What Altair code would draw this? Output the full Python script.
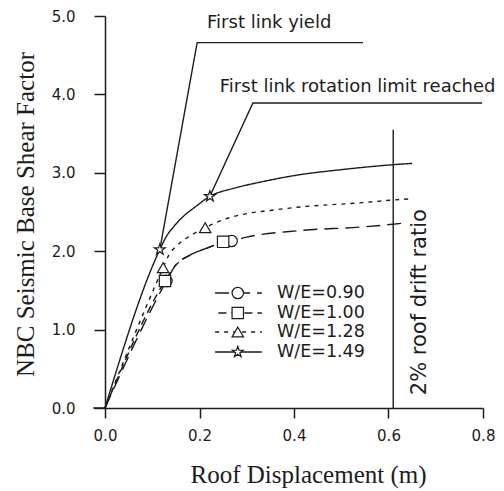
import altair as alt
import pandas as pd

# Pushover curves: roof displacement (m) vs NBC seismic base shear factor
series_names = ["W/E=0.90", "W/E=1.00", "W/E=1.28", "W/E=1.49"]

x_090 = [0.0, 0.130, 0.148, 0.180, 0.216, 0.250, 0.268, 0.300, 0.406, 0.546, 0.603, 0.635]
y_090 = [0.0, 1.62, 1.81, 1.95, 2.04, 2.11, 2.13, 2.18, 2.26, 2.31, 2.34, 2.36]

x_100 = [0.0, 0.127, 0.148, 0.180, 0.216, 0.250]
y_100 = [0.0, 1.62, 1.81, 1.95, 2.04, 2.12]

x_128 = [0.0, 0.123, 0.135, 0.152, 0.176, 0.212, 0.237, 0.265, 0.300, 0.350, 0.406, 0.546, 0.603, 0.650]
y_128 = [0.0, 1.79, 1.95, 2.07, 2.18, 2.30, 2.37, 2.43, 2.48, 2.52, 2.56, 2.62, 2.65, 2.67]

x_149 = [0.0, 0.116, 0.130, 0.145, 0.165, 0.190, 0.222, 0.271, 0.328, 0.406, 0.500, 0.603, 0.650]
y_149 = [0.0, 2.02, 2.19, 2.31, 2.44, 2.56, 2.70, 2.80, 2.88, 2.97, 3.04, 3.10, 3.12]

# Marked points on each curve
mark_series = ["W/E=0.90", "W/E=0.90", "W/E=1.00", "W/E=1.00",
               "W/E=1.28", "W/E=1.28", "W/E=1.49", "W/E=1.49"]
mark_x = [0.130, 0.268, 0.127, 0.250, 0.123, 0.212, 0.116, 0.222]
mark_y = [1.62, 2.13, 1.62, 2.12, 1.79, 2.30, 2.02, 2.70]

# Event leader lines
yield_x = [0.116, 0.195, 0.546]
yield_y = [2.02, 4.66, 4.66]
rot_x = [0.222, 0.313, 0.798]
rot_y = [2.70, 3.89, 3.89]
drift_x = 0.61
drift_top = 3.55

# Legend rows (in data units)
legend_y = [1.467, 1.212, 0.969, 0.714]

STAR = ("M0,-1L0.2245,-0.309L0.951,-0.309L0.363,0.118L0.588,0.809L0,0.382"
        "L-0.588,0.809L-0.363,0.118L-0.951,-0.309L-0.2245,-0.309Z")
shapes = ["circle", "square", "triangle-up", STAR]
dashes = [[14, 7], [8, 5], [4, 5], [1, 0]]
INK = "#1c1c1c"

rows = []
for name, xs, ys in [("W/E=0.90", x_090, y_090), ("W/E=1.00", x_100, y_100),
                     ("W/E=1.28", x_128, y_128), ("W/E=1.49", x_149, y_149)]:
    for i, (a, b) in enumerate(zip(xs, ys)):
        rows.append({"series": name, "x": a, "y": b, "ord": i})
curves = pd.DataFrame(rows)
marks = pd.DataFrame({"series": mark_series, "x": mark_x, "y": mark_y})
leaders = pd.DataFrame(
    [{"grp": "yield", "x": a, "y": b, "ord": i} for i, (a, b) in enumerate(zip(yield_x, yield_y))]
    + [{"grp": "rot", "x": a, "y": b, "ord": i} for i, (a, b) in enumerate(zip(rot_x, rot_y))]
)
drift = pd.DataFrame({"x": [drift_x], "y": [0.0], "y2": [drift_top]})
legend = pd.DataFrame({
    "series": series_names,
    "y": legend_y,
    "x1": [0.233, 0.24, 0.233, 0.233],
    "x2": [0.332, 0.332, 0.332, 0.332],
    "xs": [0.281, 0.281, 0.281, 0.281],
    "xt": [0.364] * 4,
})
notes = pd.DataFrame({
    "x": [0.216, 0.243],
    "y": [4.85, 4.03],
    "label": ["First link yield", "First link rotation limit reached"],
})
drift_note = pd.DataFrame({"x": [0.679], "y": [1.35], "label": ["2% roof drift ratio"]})
# short stub of the x axis line to the left of the origin
stub = pd.DataFrame({"x": [-0.025], "x2": [0.0], "y": [0.0]})

xs = alt.Scale(domain=[0, 0.8], nice=False, zero=False)
ys = alt.Scale(domain=[0, 5], nice=False)
dash_scale = alt.Scale(domain=series_names, range=dashes)
shape_scale = alt.Scale(domain=series_names, range=shapes)

X = alt.X("x:Q", scale=xs, axis=alt.Axis(
    title="Roof Displacement (m)", values=[0, 0.2, 0.4, 0.6, 0.8], format=".1f",
    tickSize=10, labelPadding=10, labelFlush=False, titleX=203, titleY=74,
    titleBaseline="alphabetic", titleAlign="center"))
Y = alt.Y("y:Q", scale=ys, axis=alt.Axis(
    title="NBC Seismic Base Shear Factor", values=[0, 1, 2, 3, 4, 5], format=".1f",
    tickSize=11, labelPadding=19, labelFlush=False, titleX=-72, titleY=198,
    titleBaseline="alphabetic", titleAlign="center"))

lines = alt.Chart(curves).mark_line(
    interpolate="monotone", color=INK, strokeWidth=1.4
).encode(
    x=X, y=Y,
    strokeDash=alt.StrokeDash("series:N", scale=dash_scale, legend=None),
    detail="series:N", order="ord:Q",
)

points = alt.Chart(marks).mark_point(
    fill="white", fillOpacity=1, stroke=INK, strokeWidth=1.2, opacity=1, size=130
).encode(
    x="x:Q", y="y:Q",
    shape=alt.Shape("series:N", scale=shape_scale, legend=None),
)

lead = alt.Chart(leaders).mark_line(color=INK, strokeWidth=1.4).encode(
    x="x:Q", y="y:Q", detail="grp:N", order="ord:Q"
)

drift_rule = alt.Chart(drift).mark_rule(color=INK, strokeWidth=1.4).encode(
    x="x:Q", y="y:Q", y2="y2:Q"
)

axis_stub = alt.Chart(stub).mark_rule(color=INK, strokeWidth=1.5).encode(
    x="x:Q", x2="x2:Q", y="y:Q"
)

note_text = alt.Chart(notes).mark_text(
    align="left", baseline="alphabetic", font="DejaVu Sans", fontSize=18, color=INK
).encode(x="x:Q", y="y:Q", text="label:N")

drift_text = alt.Chart(drift_note).mark_text(
    align="center", baseline="alphabetic", angle=270, font="DejaVu Sans",
    fontSize=21, color=INK
).encode(x="x:Q", y="y:Q", text="label:N")

leg_lines = alt.Chart(legend).mark_rule(color=INK, strokeWidth=1.4).encode(
    x="x1:Q", x2="x2:Q", y="y:Q",
    strokeDash=alt.StrokeDash("series:N", scale=dash_scale, legend=None),
)
leg_points = alt.Chart(legend).mark_point(
    fill="white", fillOpacity=1, stroke=INK, strokeWidth=1.2, opacity=1, size=130
).encode(
    x="xs:Q", y="y:Q",
    shape=alt.Shape("series:N", scale=shape_scale, legend=None),
)
leg_text = alt.Chart(legend).mark_text(
    align="left", baseline="middle", font="DejaVu Sans", fontSize=17.5, color=INK
).encode(x="xt:Q", y="y:Q", text="series:N")

chart = alt.layer(
    lines, lead, drift_rule, axis_stub, points, note_text, drift_text,
    leg_lines, leg_points, leg_text
).properties(
    width=378, height=392,
    padding={"left": 105, "top": 16, "right": 21, "bottom": 83},
    autosize=alt.AutoSizeParams(type="none"),
    background="white",
).configure_view(stroke=None).configure_axis(
    grid=False, domainColor=INK, tickColor=INK, domainWidth=1.5, tickWidth=1.5,
    labelFont="DejaVu Sans", labelFontSize=15, labelColor=INK,
    titleFont="Liberation Serif", titleFontSize=25, titleFontWeight="normal",
    titleColor=INK,
)

chart.save("out.html", embed_options={"renderer": "svg", "actions": False})
